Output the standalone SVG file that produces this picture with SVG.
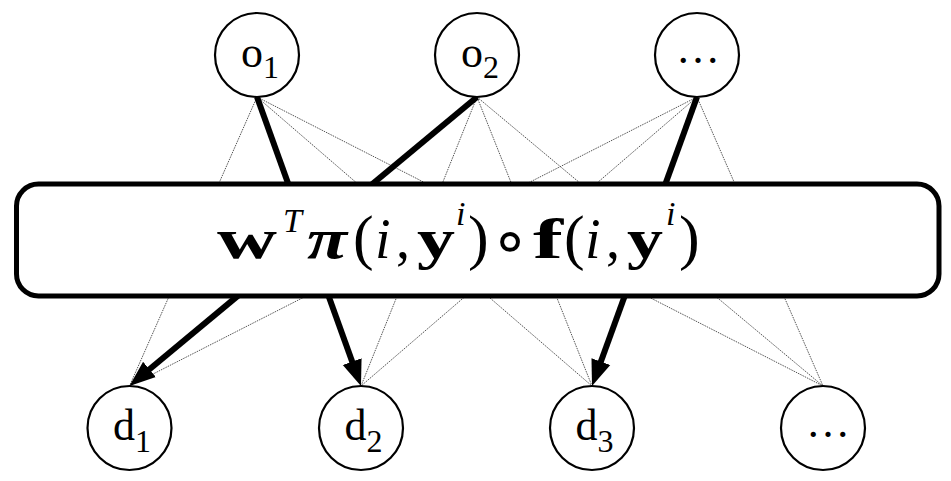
<svg xmlns="http://www.w3.org/2000/svg" width="951" height="481" viewBox="0 0 951 481">
<style>
.dot{stroke:#555;stroke-width:1;stroke-dasharray:1.5 1;fill:none}
.thick{stroke:#000;stroke-width:6;fill:none;marker-end:url(#ah)}
.node{fill:#fff;stroke:#000;stroke-width:2.2}
.lbl{font-family:"Liberation Serif","Times New Roman",serif;font-size:44px;fill:#000;text-anchor:middle}
.sub{font-size:32px}
.fm{font-family:"Liberation Serif","Times New Roman",serif;font-size:56px;fill:#000}
.b{font-weight:bold}
.it{font-style:italic}
.sup{font-size:34px}
.par{font-size:62px}
</style>
<defs>
<marker id="ah" markerUnits="userSpaceOnUse" markerWidth="30" markerHeight="26" refX="14" refY="0" viewBox="0 -13 30 26" orient="auto">
<path d="M0,-10 L26,0 L0,10 z" fill="#000"/>
</marker>
</defs>
<g id="connectors">
<line class="dot" x1="257" y1="97" x2="129.5" y2="386"/>
<line class="dot" x1="257" y1="97" x2="361" y2="386"/>
<line class="dot" x1="257" y1="97" x2="592" y2="386"/>
<line class="dot" x1="257" y1="97" x2="823" y2="386"/>
<line class="dot" x1="477" y1="97" x2="129.5" y2="386"/>
<line class="dot" x1="477" y1="97" x2="361" y2="386"/>
<line class="dot" x1="477" y1="97" x2="592" y2="386"/>
<line class="dot" x1="477" y1="97" x2="823" y2="386"/>
<line class="dot" x1="697" y1="97" x2="129.5" y2="386"/>
<line class="dot" x1="697" y1="97" x2="361" y2="386"/>
<line class="dot" x1="697" y1="97" x2="592" y2="386"/>
<line class="dot" x1="697" y1="97" x2="823" y2="386"/>
<line class="thick" x1="257" y1="97" x2="356.9" y2="374.7"/>
<line class="thick" x1="477" y1="97" x2="138.7" y2="378.3"/>
<line class="thick" x1="697" y1="97" x2="596.1" y2="374.7"/>
</g>
<g id="box">
<rect x="16.5" y="184" width="922.5" height="112" rx="22" ry="22" fill="#fff" stroke="#000" stroke-width="5"/>
<text class="fm b" x="217" y="258" textLength="60" lengthAdjust="spacingAndGlyphs">w</text>
<text class="fm it sup" x="283" y="232">T</text>
<text class="fm b it" x="307" y="258" textLength="40" lengthAdjust="spacingAndGlyphs">π</text>
<text class="fm par" x="353" y="258">(</text>
<text class="fm it" x="375" y="258">i</text>
<text class="fm" x="396" y="258">,</text>
<text class="fm b" x="417" y="258" textLength="38" lengthAdjust="spacingAndGlyphs">y</text>
<text class="fm it sup" x="456" y="225">i</text>
<text class="fm par" x="468" y="258">)</text>
<text class="fm" x="510" y="262" style="font-family:'DejaVu Sans',sans-serif;font-size:64px;text-anchor:middle">∘</text>
<text class="fm b" x="533" y="258" textLength="30" lengthAdjust="spacingAndGlyphs">f</text>
<text class="fm par" x="564" y="258">(</text>
<text class="fm it" x="585" y="258">i</text>
<text class="fm" x="606" y="258">,</text>
<text class="fm b" x="627" y="258" textLength="36" lengthAdjust="spacingAndGlyphs">y</text>
<text class="fm it sup" x="666" y="225">i</text>
<text class="fm par" x="679" y="258">)</text>
</g>
<g id="o1"><circle class="node" cx="257" cy="55" r="42"/><text class="lbl" x="260" y="67">o<tspan class="sub" dy="11">1</tspan></text></g>
<g id="o2"><circle class="node" cx="477" cy="55" r="42"/><text class="lbl" x="480" y="67">o<tspan class="sub" dy="11">2</tspan></text></g>
<g id="o3"><circle class="node" cx="697" cy="55" r="42"/><text class="lbl" x="698" y="63">…</text></g>
<g id="d1"><circle class="node" cx="129.5" cy="428" r="42"/><text class="lbl" x="132" y="440">d<tspan class="sub" dy="12">1</tspan></text></g>
<g id="d2"><circle class="node" cx="361" cy="428" r="42"/><text class="lbl" x="363.5" y="440">d<tspan class="sub" dy="12">2</tspan></text></g>
<g id="d3"><circle class="node" cx="592" cy="428" r="42"/><text class="lbl" x="594.5" y="440">d<tspan class="sub" dy="12">3</tspan></text></g>
<g id="d4"><circle class="node" cx="823" cy="428" r="42"/><text class="lbl" x="828" y="437">…</text></g>
</svg>
